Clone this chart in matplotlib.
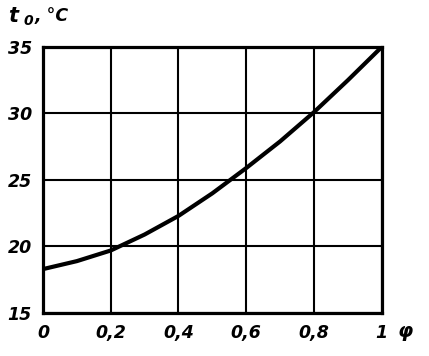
import numpy as np
import matplotlib.pyplot as plt

phi = [0.0, 0.1, 0.2, 0.3, 0.4, 0.5, 0.6, 0.7, 0.8, 0.9, 1.0]
t0 = [18.3, 18.9, 19.7, 20.9, 22.3, 24.0, 25.9, 27.9, 30.1, 32.5, 35.0]
xticks = [0, 0.2, 0.4, 0.6, 0.8, 1.0]
xlabels = ['0', '0,2', '0,4', '0,6', '0,8', '1']
yticks = [15, 20, 25, 30, 35]

font = dict(family='DejaVu Sans', fontweight='bold', fontstyle='italic', fontsize=12.5)

fig = plt.figure(figsize=(4.29, 3.56), dpi=100)
ax = fig.add_axes([0.1002, 0.1208, 0.7896, 0.7472])

ax.plot(phi, t0, color='black', lw=3, solid_capstyle='butt')
ax.set_xlim(0, 1)
ax.set_ylim(15, 35)
ax.set_xticks(xticks)
ax.set_yticks(yticks)
ax.grid(True, color='black', lw=1.5)
ax.set_xticklabels(xlabels, **font)
ax.set_yticklabels([str(v) for v in yticks], **font)
ax.tick_params(length=0, pad=8)
for s in ax.spines.values():
    s.set_linewidth(2.3)

fig.text(0.945, 0.07, 'φ', ha='center', va='center', **dict(font, fontsize=14))
fig.text(0.018, 0.955, 't', ha='left', va='center', **dict(font, fontsize=15))
fig.text(0.055, 0.94, '0', ha='left', va='center', **dict(font, fontsize=10))
fig.text(0.08, 0.955, ', °C', ha='left', va='center', **font)

fig.savefig('out.png', dpi=100)
